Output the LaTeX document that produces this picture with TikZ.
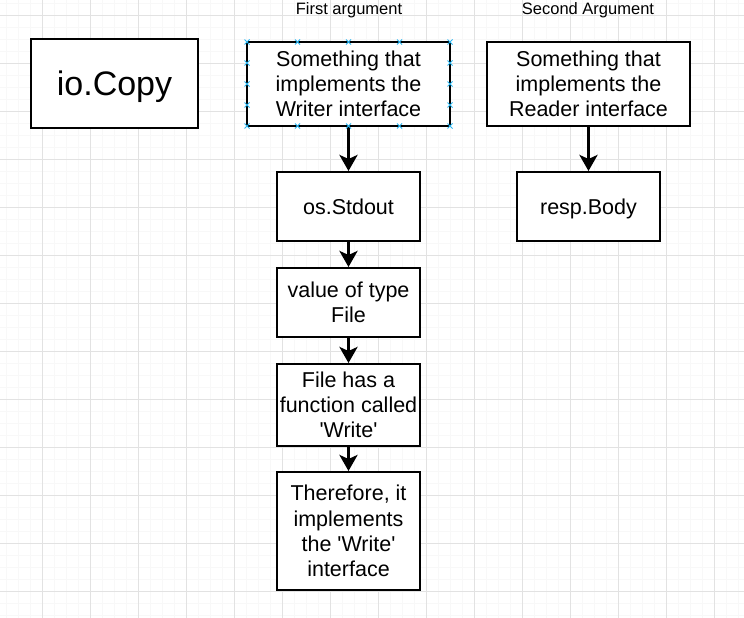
\documentclass[tikz,border=0pt]{standalone}
\usepackage{fontspec}
\setmainfont{Liberation Sans}
\usetikzlibrary{arrows.meta, positioning}

\begin{document}
\begin{tikzpicture}[
    x=1pt, y=-1pt,
    >=Stealth,
    box/.style={draw=black, line width=2pt, fill=white, align=center,
                inner sep=0pt, font=\fontsize{21.5}{25.3}\selectfont},
    flow/.style={line width=3pt, -{Stealth[length=16pt, width=18pt, inset=4pt]}},
    caption/.style={font=\fontsize{16.5}{18}\selectfont},
    handle/.style={draw=handleBlue, line width=1pt},
]

\definecolor{gridMajor}{RGB}{226,226,226}   % grid lines
\definecolor{gridMinor}{RGB}{248,248,248}   % fine grid
\definecolor{handleBlue}{RGB}{41,182,242}   % selection handles

% ============================================================
% CANVAS AND GRID
% ============================================================
\useasboundingbox (0,0) rectangle (744,618);
\fill[white] (0,0) rectangle (744,618);

\foreach \x in {6.3,18.3,...,744} {
    \draw[gridMinor, line width=0.6pt] (\x,0) -- (\x,618);
}
\foreach \y in {3.3,15.3,...,618} {
    \draw[gridMinor, line width=0.6pt] (0,\y) -- (744,\y);
}
\foreach \x in {42.3,90.3,...,744} {
    \draw[gridMajor, line width=0.9pt] (\x,0) -- (\x,618);
}
\foreach \y in {15.3,63.3,...,618} {
    \draw[gridMajor, line width=0.9pt] (0,\y) -- (744,\y);
}

% ============================================================
% CAPTIONS
% ============================================================
\node[caption] (firstcap) at (349,10) {First argument};
\node[caption] (secondcap) at (588,10) {Second Argument};

% ============================================================
% BOXES
% ============================================================
\node[box, minimum width=167pt, minimum height=89pt, text depth=0pt,
      font=\fontsize{34}{38}\selectfont] (iocopy) at (114.5,83.5) {io.Copy};

\node[box, minimum width=203pt, minimum height=84pt] (writer) at (348.5,84)
    {Something that\\implements the\\Writer interface};
\node[box, minimum width=203pt, minimum height=84pt] (reader) at (588.5,84)
    {Something that\\implements the\\Reader interface};

\node[box, minimum width=143pt, minimum height=69pt, text depth=0pt] (stdout) at (348.5,206.5)
    {os.Stdout};
\node[box, minimum width=143pt, minimum height=69pt] (filetype) at (348.5,302.5)
    {value of type\\File};
\node[box, minimum width=143pt, minimum height=82pt] (hasfunc) at (348.5,405)
    {File has a\\function called\\\textquotesingle Write\textquotesingle};
\node[box, minimum width=143pt, minimum height=118pt] (therefore) at (348.5,531)
    {Therefore, it\\implements\\the \textquotesingle Write\textquotesingle\\interface};

\node[box, minimum width=143pt, minimum height=69pt, text depth=0pt] (body) at (588.5,206.5)
    {resp.Body};

% ============================================================
% ARROWS
% ============================================================
\draw[flow] (writer) -- (stdout);
\draw[flow] (stdout) -- (filetype);
\draw[flow] (filetype) -- (hasfunc);
\draw[flow] (hasfunc) -- (therefore);
\draw[flow] (reader) -- (body);

% ============================================================
% SELECTION HANDLES (writer box)
% ============================================================
\foreach \hx in {247,297.5,348.5,399.5,450} {
    \foreach \hy in {42,126} {
        \draw[handle] (\hx-2.5,\hy-2.5) -- (\hx+2.5,\hy+2.5) (\hx-2.5,\hy+2.5) -- (\hx+2.5,\hy-2.5);
    }
}
\foreach \hx in {247,450} {
    \foreach \hy in {63,84,105} {
        \draw[handle] (\hx-2.5,\hy-2.5) -- (\hx+2.5,\hy+2.5) (\hx-2.5,\hy+2.5) -- (\hx+2.5,\hy-2.5);
    }
}

\end{tikzpicture}
\end{document}
